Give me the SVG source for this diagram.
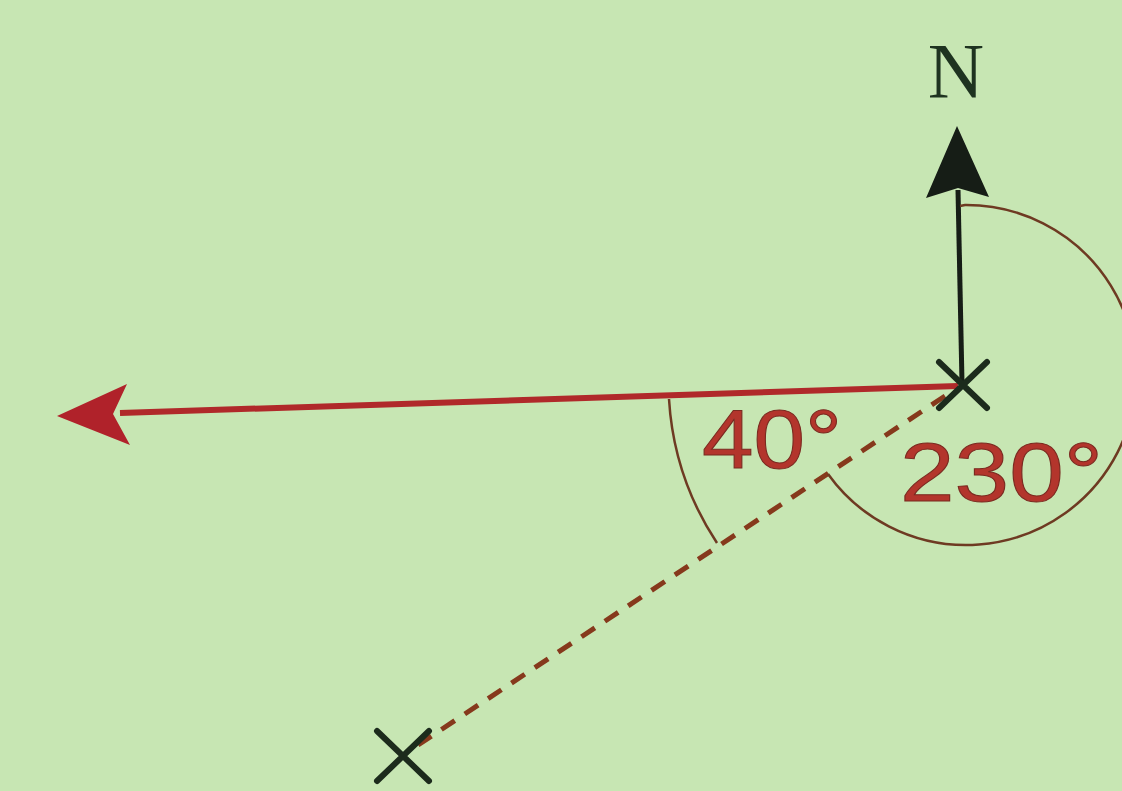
<svg xmlns="http://www.w3.org/2000/svg" width="1122" height="791" viewBox="0 0 1122 791">
<style>
.xm{stroke:#1c2b1c;stroke-width:6;stroke-linecap:round;fill:none}
.arc{stroke:#6e3a22;stroke-width:2.5;fill:none}
.deg{font-family:"Liberation Sans",Arial,sans-serif;font-size:84px;fill:#b3352c;stroke:#7a2a20;stroke-width:1}
</style>
<rect width="1122" height="791" fill="#c7e6b3"/>
<g id="connectors">
<line x1="958" y1="190" x2="962" y2="383" stroke="#161d16" stroke-width="5"/>
<polygon points="957,126 989,197 958,188 926,198" fill="#161d16"/>
<line x1="120" y1="413" x2="958" y2="386" stroke="#b0292a" stroke-width="6"/>
<polygon points="57,416 127,384 113,414 130,445" fill="#b0222a"/>
<line x1="945" y1="396" x2="418" y2="745" stroke="#86391c" stroke-width="5" stroke-dasharray="16 12"/>
</g>
<g id="arc40"><path class="arc" d="M 669 399 A 293 293 0 0 0 717 543"/></g>
<g id="arc230"><path class="arc" d="M 960 206 L 965 205 A 170 170 0 1 1 828 474"/></g>
<g id="start"><path class="xm" d="M939 362 L987 408 M987 362 L939 408"/></g>
<g id="end"><path class="xm" d="M377 731 L429 781 M429 731 L377 781"/></g>
<g id="north"><text x="956" y="97" font-family="Liberation Serif,serif" font-size="78" fill="#1e3320" text-anchor="middle">N</text></g>
<g id="label40"><text class="deg" x="702" y="468" textLength="140" lengthAdjust="spacingAndGlyphs">40°</text></g>
<g id="label230"><text class="deg" x="900" y="501" textLength="203" lengthAdjust="spacingAndGlyphs">230°</text></g>
</svg>
